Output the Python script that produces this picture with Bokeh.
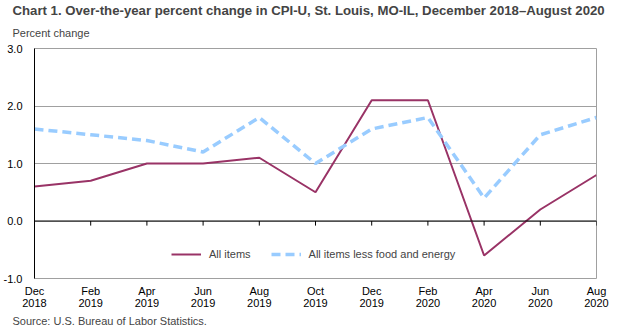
from bokeh.plotting import figure
from bokeh.models import (ColumnDataSource, Title, Span, Legend, LegendItem,
                          FixedTicker, LinearAxis, CustomJSTickFormatter)
from bokeh.embed import file_html
from bokeh.resources import INLINE

# ---- data ----
month_labels = ["Dec", "Feb", "Apr", "Jun", "Aug", "Oct", "Dec", "Feb", "Apr", "Jun", "Aug"]
year_labels = ["2018", "2019", "2019", "2019", "2019", "2019", "2019", "2020", "2020", "2020", "2020"]
all_items = [0.6, 0.7, 1.0, 1.0, 1.1, 0.5, 2.1, 2.1, -0.6, 0.2, 0.8]
core_items = [1.6, 1.5, 1.4, 1.2, 1.8, 1.0, 1.6, 1.8, 0.4, 1.5, 1.8]
y_ticks = [-1.0, 0.0, 1.0, 2.0, 3.0]

idx = list(range(len(month_labels)))
src = ColumnDataSource(dict(x=idx, all=all_items, core=core_items))

FONT = "Liberation Sans"

p = figure(width=619, height=331, output_backend="svg", toolbar_location=None,
           x_range=(0, len(idx) - 1), y_range=(y_ticks[0], y_ticks[-1]),
           min_border_left=32, min_border_right=23, min_border_top=48,
           min_border_bottom=53, x_axis_location=None, y_axis_location="left")
p.background_fill_color = "white"
p.border_fill_color = "white"
p.outline_line_color = "#a0a0a0"
p.outline_line_width = 1

# y axis
p.yaxis.ticker = FixedTicker(ticks=y_ticks)
p.yaxis.formatter = CustomJSTickFormatter(code="return tick.toFixed(1);")
p.yaxis.axis_line_color = "black"
p.yaxis.axis_line_width = 1
p.yaxis.major_tick_line_color = None
p.yaxis.minor_tick_line_color = None
p.yaxis.major_label_text_font = FONT
p.yaxis.major_label_text_font_size = "11px"
p.yaxis.major_label_text_color = "black"
p.yaxis.major_label_standoff = 6

p.ygrid.ticker = FixedTicker(ticks=y_ticks)
p.ygrid.grid_line_color = "#a0a0a0"
p.xgrid.grid_line_color = None


def label_axis(labels, standoff):
    ax = LinearAxis(ticker=FixedTicker(ticks=idx),
                    major_label_overrides={i: t for i, t in zip(idx, labels)})
    ax.axis_line_color = None
    ax.major_tick_line_color = None
    ax.minor_tick_line_color = None
    ax.major_tick_out = 0
    ax.major_tick_in = 0
    ax.major_label_text_font = FONT
    ax.major_label_text_font_size = "11px"
    ax.major_label_text_color = "black"
    ax.major_label_standoff = standoff
    return ax


p.add_layout(label_axis(month_labels, 6), "below")
p.add_layout(label_axis(year_labels, -1), "below")

# zero line with ticks
p.add_layout(Span(location=0, dimension="width", line_color="black", line_width=1))
p.segment(x0=idx, y0=[0] * len(idx), x1=idx, y1=[-0.08] * len(idx),
          line_color="black", line_width=1)

# series
r1 = p.line("x", "all", source=src, line_color="#993366", line_width=2)
r2 = p.line("x", "core", source=src, line_color="#99ccff", line_width=3.5,
            line_dash="9 5")

legend = Legend(items=[LegendItem(label="All items", renderers=[r1]),
                       LegendItem(label="All items less food and energy", renderers=[r2])],
                orientation="horizontal", location=(137, 14),
                background_fill_alpha=0, border_line_color=None,
                label_text_font=FONT, label_text_font_size="11px",
                glyph_width=30, spacing=20, label_standoff=8, padding=4, margin=0)
p.add_layout(legend, "center")

# titles
src_title = Title(text="Source: U.S. Bureau of Labor Statistics.", align="left",
                  text_font=FONT, text_font_size="11px", text_font_style="normal",
                  offset=-22, standoff=6)
p.add_layout(src_title, "below")

sub = Title(text="Percent change", align="left", text_font=FONT,
            text_font_size="11px", text_font_style="normal", offset=-22, standoff=20)
p.add_layout(sub, "above")
main = Title(text="Chart 1. Over-the-year percent change in CPI-U, St. Louis, MO-IL, December 2018\u2013August  2020",
             align="left", text_font=FONT, text_font_size="13.2px",
             text_font_style="bold", offset=-22, standoff=-7)
p.add_layout(main, "above")

open("out.html", "w").write(file_html(p, INLINE))
